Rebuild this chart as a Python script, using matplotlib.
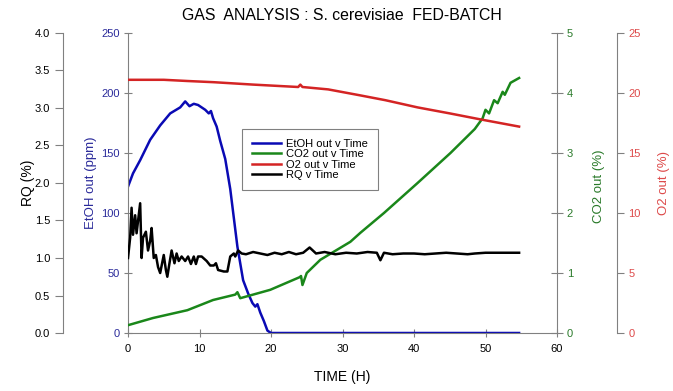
import matplotlib
matplotlib.use("Agg")
import matplotlib.pyplot as plt

plt.rcParams['font.family'] = ['Liberation Sans', 'DejaVu Sans']

# EtOH out (ppm)
etoh_t = [0, 0.7, 1.7, 3.1, 4.5, 5.9, 7.3, 8.0, 8.6, 9.2, 9.8, 10.3, 10.8, 11.3, 11.6,
          11.9, 12.4, 12.9, 13.6, 14.3, 15.3, 16.1, 16.8, 17.4, 17.8, 18.1, 18.5, 19.0,
          19.5, 20.0, 54.7]
etoh = [122, 133, 144, 161, 173, 183, 188, 193, 189, 191, 190, 188, 186, 183, 185,
        179, 172, 160, 145, 120, 72, 44, 33, 25, 22, 24, 17, 10, 2, 0, 0]

# CO2 out (%)
co2_t = [0, 3.5, 8.3, 11.9, 15.0, 15.3, 15.7, 19.9, 24.0, 24.2, 24.4, 25.0, 26.9, 31.1,
         32.5, 35.8, 40.5, 45.1, 48.5, 49.6, 50.0, 50.5, 51.2, 51.7, 52.4, 52.7, 53.5, 54.7]
co2 = [0.13, 0.25, 0.38, 0.55, 0.64, 0.68, 0.58, 0.72, 0.93, 0.95, 0.80, 1.0, 1.22, 1.52,
       1.67, 2.0, 2.5, 3.0, 3.4, 3.58, 3.72, 3.66, 3.88, 3.83, 4.02, 3.97, 4.17, 4.25]

# O2 out (%)
o2_t = [0, 5, 8.3, 12, 17.5, 23.8, 24.1, 24.4, 28, 32.5, 36, 40.5, 45, 49.3, 52, 54.7]
o2 = [21.1, 21.1, 21.0, 20.9, 20.7, 20.5, 20.7, 20.5, 20.3, 19.8, 19.4, 18.8, 18.3,
      17.8, 17.5, 17.2]

# RQ
rq_t = [0, 0.3, 0.5, 0.7, 1.0, 1.2, 1.7, 1.9, 2.1, 2.5, 2.8, 3.1, 3.3, 3.6, 3.9, 4.2,
        4.5, 5.0, 5.3, 5.5, 5.8, 6.1, 6.5, 6.8, 7.1, 7.5, 8.0, 8.4, 8.8, 9.2, 9.5, 9.8,
        10.3, 11.0, 11.5, 12.0, 12.3, 12.6, 13.4, 13.9, 14.3, 14.8, 15.0, 15.4, 15.9,
        16.5, 17.5, 18.5, 19.5, 20.5, 21.5, 22.5, 23.5, 24.5, 25.4, 26.3, 27.5, 29,
        30.5, 32, 33.5, 34.8, 35.3, 35.8, 37, 38.5, 40, 41.5, 43, 44.5, 46, 47.5, 48.5,
        50, 52, 54.7]
rq = [1.0, 1.27, 1.67, 1.31, 1.57, 1.33, 1.73, 1.0, 1.27, 1.35, 1.1, 1.23, 1.4, 1.0,
      1.04, 0.88, 0.8, 1.04, 0.84, 0.75, 0.93, 1.1, 0.93, 1.06, 0.96, 1.02, 0.96, 1.02,
      0.92, 1.02, 0.92, 1.02, 1.02, 0.96, 0.9, 0.9, 0.93, 0.84, 0.82, 0.82, 1.02, 1.06,
      1.02, 1.1, 1.06, 1.05, 1.08, 1.06, 1.04, 1.07, 1.05, 1.08, 1.05, 1.07, 1.14, 1.06,
      1.08, 1.05, 1.07, 1.06, 1.08, 1.07, 0.97, 1.07, 1.05, 1.06, 1.06, 1.05, 1.06, 1.07,
      1.06, 1.05, 1.06, 1.07, 1.07, 1.07]

blue = '#0a0ab4'
green = '#1a871a'
red = '#d42424'
gray = '#808080'
blue_txt = '#2a2a9a'
green_txt = '#2a7a2a'
red_txt = '#dd4a4a'

fig = plt.figure(figsize=(6.73, 3.91), dpi=100)
ax = fig.add_axes([128 / 673, 1 - 333 / 391, 429 / 673, 300 / 391])
ax_co2 = ax.twinx()
ax_o2 = ax.twinx()
ax_rq = ax.twinx()

l_etoh, = ax.plot(etoh_t, etoh, color=blue, lw=1.8, label='EtOH out v Time')
l_co2, = ax_co2.plot(co2_t, co2, color=green, lw=1.8, label='CO2 out v Time')
l_o2, = ax_o2.plot(o2_t, o2, color=red, lw=1.8, label='O2 out v Time')
l_rq, = ax_rq.plot(rq_t, rq, color='black', lw=1.8, label='RQ v Time')

ax.set_xlim(0, 60)
ax.set_xticks(range(0, 61, 10))
ax.set_ylim(0, 250)
ax.set_yticks(range(0, 251, 50))
ax_co2.set_ylim(0, 5)
ax_co2.set_yticks(range(0, 6))
ax_o2.set_ylim(0, 25)
ax_o2.set_yticks(range(0, 26, 5))
ax_rq.set_ylim(0, 4)
ax_rq.set_yticks([i * 0.5 for i in range(9)])
ax_rq.set_yticklabels([f'{i * 0.5:.1f}' for i in range(9)])

for a in (ax, ax_co2, ax_o2, ax_rq):
    for s in a.spines.values():
        s.set_visible(False)
        s.set_color(gray)

ax.spines['left'].set_visible(True)
ax.spines['bottom'].set_visible(True)
ax.tick_params(axis='x', direction='inout', length=6, color=gray, labelsize=8, pad=5)
ax.tick_params(axis='y', direction='inout', length=6, color=gray, labelsize=8,
               labelcolor=blue_txt, pad=3)

ax_co2.spines['right'].set_visible(True)
ax_co2.tick_params(axis='y', direction='inout', length=8, color=gray, labelsize=8,
                   labelcolor=green_txt, pad=3)

ax_o2.spines['right'].set_visible(True)
ax_o2.spines['right'].set_position(('axes', 1.140))
ax_o2.tick_params(axis='y', direction='out', length=5, color=gray, labelsize=8,
                  labelcolor=red_txt, pad=3)

ax_rq.yaxis.set_label_position('left')
ax_rq.yaxis.set_ticks_position('left')
ax_rq.spines['left'].set_visible(True)
ax_rq.spines['left'].set_position(('axes', -0.152))
ax_rq.tick_params(axis='y', direction='out', length=6, color=gray, labelsize=8, pad=3)

ax_rq.set_ylabel('RQ (%)', fontsize=10)
ax_rq.yaxis.set_label_coords(-0.216, 0.5)
ax.set_ylabel('EtOH out (ppm)', fontsize=9.5, color=blue_txt)
ax.yaxis.set_label_coords(-0.072, 0.5)
ax_co2.set_ylabel('CO2 out (%)', fontsize=9.5, color=green_txt)
ax_co2.yaxis.set_label_coords(1.084, 0.49)
ax_o2.set_ylabel('O2 out (%)', fontsize=9.5, color=red_txt)
ax_o2.yaxis.set_label_coords(1.236, 0.5)

fig.text(342 / 673, 1 - 377 / 391, 'TIME (H)', ha='center', va='center', fontsize=10)
fig.text(342 / 673, 1 - 15 / 391, 'GAS  ANALYSIS : S. cerevisiae  FED-BATCH',
         ha='center', va='center', fontsize=11.4)

leg = ax_rq.legend(handles=[l_etoh, l_co2, l_o2, l_rq], loc='upper left',
                   bbox_to_anchor=(0.252, 0.70), fontsize=8, fancybox=False,
                   framealpha=1, edgecolor=gray, handlelength=2.6, labelspacing=0.05,
                   borderpad=0.9, handletextpad=0.5)
leg.get_frame().set_linewidth(0.8)

fig.savefig('out.png', dpi=100)
